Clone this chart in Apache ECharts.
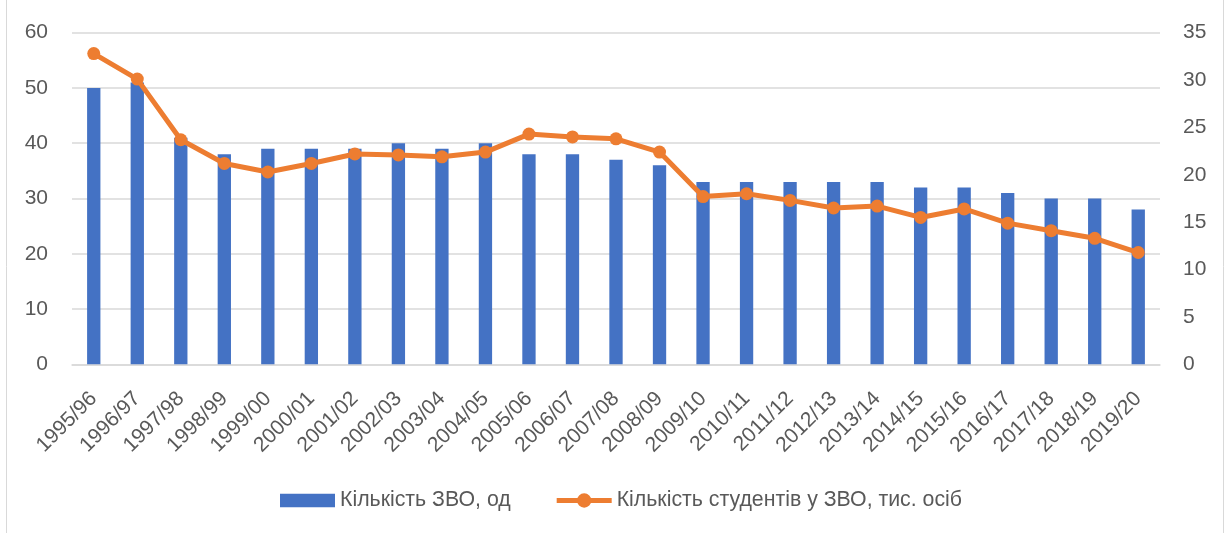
<!DOCTYPE html>
<html>
<head>
<meta charset="utf-8">
<script src="https://cdn.jsdelivr.net/npm/echarts@6/dist/echarts.min.js"></script>
<style>html,body{margin:0;padding:0;background:#fff}#c{width:1229px;height:533px}</style>
</head>
<body>
<div id="c"></div>
<script>
const categories = ['1995/96','1996/97','1997/98','1998/99','1999/00','2000/01','2001/02','2002/03','2003/04','2004/05','2005/06','2006/07','2007/08','2008/09','2009/10','2010/11','2011/12','2012/13','2013/14','2014/15','2015/16','2016/17','2017/18','2018/19','2019/20'];
const institutions = [50,51,41,38,39,39,39,40,39,40,38,38,37,36,33,33,33,33,33,32,32,31,30,30,28];
const students = [32.8,30.1,23.7,21.2,20.3,21.2,22.2,22.1,21.9,22.4,24.3,24.0,23.8,22.4,17.7,18.0,17.3,16.5,16.7,15.5,16.4,14.9,14.1,13.3,11.8];
const leftTicks = {min:0,max:60,interval:10};
const rightTicks = {min:0,max:35,interval:5};
const seriesNames = ['Кількість ЗВО, од','Кількість студентів у ЗВО, тис. осіб'];

const font = 'Liberation Sans';
const txt = '#595959';
const chart = echarts.init(document.getElementById('c'), null, {renderer:'canvas'});
chart.setOption({
  animation:false,
  backgroundColor:'#fff',
  textStyle:{fontFamily:font},
  graphic:[{type:'rect',shape:{x:6.5,y:-5,width:1217,height:545},style:{fill:'none',stroke:'#d9d9d9',lineWidth:1},silent:true}],
  grid:{left:72,right:69,top:32.7,bottom:168.7,containLabel:false},
  legend:{
    top:485, left:275, itemWidth:55, itemHeight:16, itemGap:46, symbolKeepAspect:true,
    textStyle:{color:txt,fontSize:21.3,fontFamily:font},
    data:[
      {name:seriesNames[0],icon:'path://M0,0h53v13h-53z'},
      {name:seriesNames[1],icon:'path://M0,5.5h57v5h-57z M21,8a7.5,7.5 0 1,1 15,0a7.5,7.5 0 1,1 -15,0z'}
    ]
  },
  xAxis:{
    type:'category', data:categories,
    axisTick:{show:false},
    axisLine:{lineStyle:{color:'#d9d9d9',width:1.5}},
    axisLabel:{rotate:45,interval:0,color:txt,fontSize:21,fontFamily:font,margin:31}
  },
  yAxis:[
    {type:'value',min:leftTicks.min,max:leftTicks.max,interval:leftTicks.interval,
     axisLine:{show:false},axisTick:{show:false},
     axisLabel:{color:txt,fontSize:21,fontFamily:font,margin:24},
     splitLine:{lineStyle:{color:'#d9d9d9',width:1.5}}},
    {type:'value',min:rightTicks.min,max:rightTicks.max,interval:rightTicks.interval,position:'right',
     axisLine:{show:false},axisTick:{show:false},
     axisLabel:{color:txt,fontSize:21,fontFamily:font,margin:23},
     splitLine:{show:false}}
  ],
  series:[
    {name:seriesNames[0],type:'bar',data:institutions,yAxisIndex:0,barWidth:'30.6%',
     itemStyle:{color:'#4472C4'}},
    {name:seriesNames[1],type:'line',data:students,yAxisIndex:1,
     symbol:'circle',symbolSize:13,
     lineStyle:{color:'#ED7D31',width:5},
     itemStyle:{color:'#ED7D31'}}
  ]
});
</script>
</body>
</html>
